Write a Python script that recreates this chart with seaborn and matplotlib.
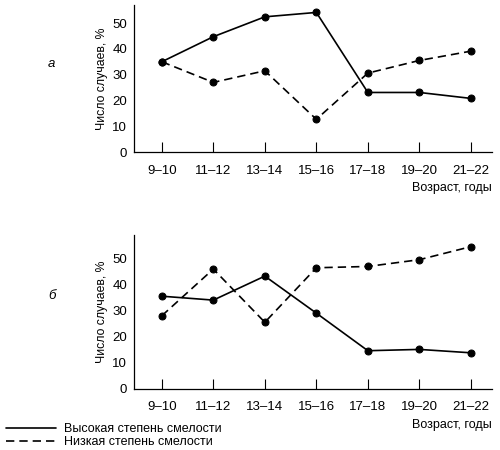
import pandas as pd
import seaborn as sns
import matplotlib.pyplot as plt
from matplotlib.lines import Line2D

ages = ['9–10', '11–12', '13–14', '15–16', '17–18', '19–20', '21–22']

# панель а
a_high = [35, 44.7, 52.4, 54.1, 23.1, 23.1, 20.8]
a_low = [35, 27, 31.5, 12.7, 30.6, 35.5, 39.1]

# панель б
b_high = [35.5, 34, 43.2, 29, 14.6, 15.1, 13.8]
b_low = [28, 45.9, 25.5, 46.4, 46.9, 49.5, 54.5]

high_name = 'Высокая степень смелости'
low_name = 'Низкая степень смелости'

sns.set_style('ticks')
plt.rcParams['font.family'] = ['Liberation Sans', 'DejaVu Sans']
plt.rcParams['text.color'] = 'black'
plt.rcParams['xtick.color'] = 'black'
plt.rcParams['ytick.color'] = 'black'
plt.rcParams['axes.labelcolor'] = 'black'
plt.rcParams['axes.edgecolor'] = 'black'


def make_df(high, low):
    return pd.DataFrame({
        'age': ages * 2,
        'pos': list(range(len(ages))) * 2,
        'value': high + low,
        'series': [high_name] * len(ages) + [low_name] * len(ages),
    })


fig = plt.figure(figsize=(5, 4.5), dpi=100)
ax_a = fig.add_axes([0.268, 0.662, 0.716, 0.327])
ax_b = fig.add_axes([0.268, 0.136, 0.716, 0.342])

dash_map = {high_name: '', low_name: (5, 3)}

for ax, df, letter, ytop in [(ax_a, make_df(a_high, a_low), 'а', 57),
                             (ax_b, make_df(b_high, b_low), 'б', 59)]:
    sns.lineplot(data=df, x='pos', y='value', style='series', dashes=dash_map,
                 markers={high_name: 'o', low_name: 'o'}, color='black',
                 markersize=5, markeredgecolor='black', linewidth=1.2,
                 legend=False, ax=ax)
    ax.set_xlim(-0.54, 6.41)
    ax.set_ylim(0, ytop)
    ax.set_xticks(range(len(ages)))
    ax.set_xticklabels(ages)
    ax.set_yticks([0, 10, 20, 30, 40, 50])
    ax.tick_params(axis='x', direction='in', length=7, width=0.8, pad=9, labelsize=9.5)
    ax.tick_params(axis='y', length=0, pad=5, labelsize=9.5)
    ax.set_xlabel('')
    ax.set_ylabel('Число случаев, %', fontsize=8.8, labelpad=3)
    sns.despine(ax=ax)
    for s in ['left', 'bottom']:
        ax.spines[s].set_linewidth(0.9)
    ax.text(1.0, -0.245 if ax is ax_a else -0.235, 'Возраст, годы', transform=ax.transAxes,
            ha='right', va='center', fontsize=9)
    ax.text(-0.23, 0.6, letter, transform=ax.transAxes, ha='center', va='center',
            fontsize=9.5, style='italic')

handles = [Line2D([], [], color='black', linewidth=1.2),
           Line2D([], [], color='black', linewidth=1.2, dashes=(5, 3))]
fig.legend(handles, [high_name, low_name], loc='lower left',
           bbox_to_anchor=(0.0, -0.01), frameon=False, fontsize=9,
           handlelength=4.0, handletextpad=0.6, labelspacing=0.1,
           borderaxespad=0.1)

fig.savefig('out.png', dpi=100)
